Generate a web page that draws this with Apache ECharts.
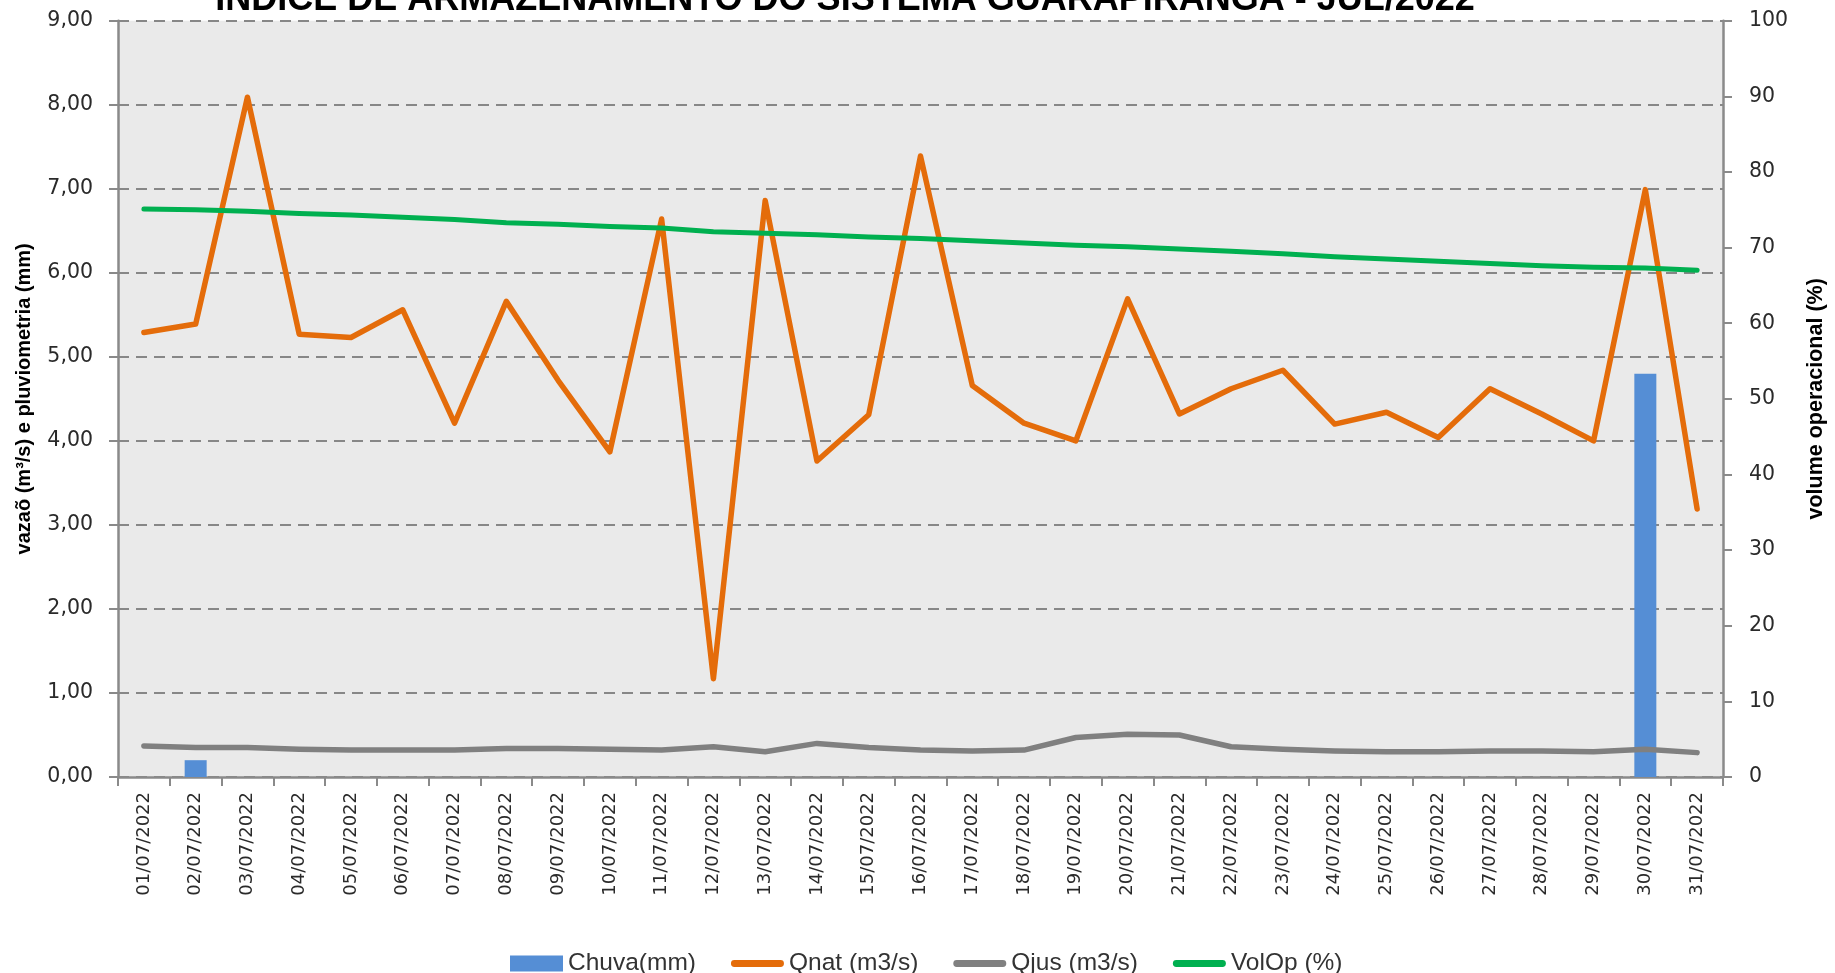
<!DOCTYPE html>
<html>
<head>
<meta charset="utf-8">
<script src="https://cdn.jsdelivr.net/npm/echarts@6/dist/echarts.min.js"></script>
<style>
html,body{margin:0;padding:0;background:#fff;}
#chart{width:1835px;height:973px;}
</style>
</head>
<body>
<div id="chart"></div>
<script>
const categories = ["01/07/2022","02/07/2022","03/07/2022","04/07/2022","05/07/2022","06/07/2022","07/07/2022","08/07/2022","09/07/2022","10/07/2022","11/07/2022","12/07/2022","13/07/2022","14/07/2022","15/07/2022","16/07/2022","17/07/2022","18/07/2022","19/07/2022","20/07/2022","21/07/2022","22/07/2022","23/07/2022","24/07/2022","25/07/2022","26/07/2022","27/07/2022","28/07/2022","29/07/2022","30/07/2022","31/07/2022"];
const chuva = [0,0.2,0,0,0,0,0,0,0,0,0,0,0,0,0,0,0,0,0,0,0,0,0,0,0,0,0,0,0,4.8,0];
const qnat = [5.29,5.39,8.09,5.27,5.23,5.56,4.21,5.66,4.72,3.87,6.64,1.17,6.86,3.76,4.31,7.39,4.66,4.21,4.00,5.69,4.32,4.62,4.84,4.20,4.34,4.04,4.62,4.32,4.00,6.99,3.19];
const qjus = [0.37,0.35,0.35,0.33,0.32,0.32,0.32,0.34,0.34,0.33,0.32,0.36,0.30,0.40,0.35,0.32,0.31,0.32,0.47,0.51,0.50,0.36,0.33,0.31,0.30,0.30,0.31,0.31,0.30,0.33,0.29];
const volop = [75.1,75.0,74.8,74.5,74.3,74.0,73.7,73.3,73.1,72.8,72.6,72.1,71.9,71.7,71.4,71.2,70.9,70.6,70.3,70.1,69.8,69.5,69.2,68.8,68.5,68.2,67.9,67.6,67.4,67.3,67.0];
const seriesNames = ["Chuva(mm)","Qnat (m3/s)","Qjus (m3/s)","VolOp (%)"];
const titleText = "ÍNDICE DE ARMAZENAMENTO DO SISTEMA GUARAPIRANGA - JUL/2022";
const leftAxisName = "vazaõ (m³/s) e pluviometria (mm)";
const rightAxisName = "volume operacional (%)";

const TXTF = "'Liberation Sans',Arial,sans-serif";
const LABELF = "'DejaVu Sans',Verdana,sans-serif";
const axisGray = '#8a8a8a';
const labelColor = '#2a2a2a';
const lineIcon = 'path://M0,0 M53,16 M3,4.5 L50,4.5 A3.5,3.5 0 0 1 50,11.5 L3,11.5 A3.5,3.5 0 0 1 3,4.5 Z';

const chart = echarts.init(document.getElementById('chart'), null, {renderer:'canvas'});
chart.setOption({
  animation:false,
  backgroundColor:'#ffffff',
  title:{
    text:titleText, left:840, textAlign:'center', top:-23,
    textStyle:{fontFamily:TXTF, fontWeight:'bold', fontSize:36, color:'#000'}
  },
  legend:{
    left:505, top:946, itemGap:35, itemWidth:53, itemHeight:16,
    textStyle:{fontFamily:TXTF, fontSize:24.5, color:'#333333'},
    data:[
      {name:seriesNames[0], icon:'rect'},
      {name:seriesNames[1], icon:lineIcon},
      {name:seriesNames[2], icon:lineIcon},
      {name:seriesNames[3], icon:lineIcon}
    ]
  },
  grid:{left:118, right:105, top:20.7, bottom:196, show:true, backgroundColor:'#EAEAEA', borderWidth:0, containLabel:false},
  xAxis:{
    type:'category', data:categories, boundaryGap:true,
    axisLine:{show:true, lineStyle:{color:axisGray, width:2.5}},
    axisTick:{show:true, alignWithLabel:false, length:9, lineStyle:{color:axisGray, width:2}},
    axisLabel:{rotate:90, margin:15, fontFamily:LABELF, fontSize:18, color:labelColor, interval:0},
    splitLine:{show:false}
  },
  yAxis:[
    {
      type:'value', min:0, max:9, interval:1, position:'left',
      name:leftAxisName, nameLocation:'middle', nameRotate:90, nameGap:84,
      nameTextStyle:{fontFamily:TXTF, fontWeight:'bold', fontSize:20, color:'#000'},
      axisLine:{show:true, lineStyle:{color:axisGray, width:2.5}},
      axisTick:{show:true, length:9, lineStyle:{color:axisGray, width:2}},
      axisLabel:{margin:25, fontFamily:LABELF, fontSize:20.5, color:labelColor,
        formatter:v=>v.toFixed(2).replace('.',',')},
      splitLine:{show:true, lineStyle:{color:'#878787', width:2, type:[11,7]}}
    },
    {
      type:'value', min:0, max:100, interval:10, position:'right',
      name:rightAxisName, nameLocation:'middle', nameRotate:90, nameGap:82,
      nameTextStyle:{fontFamily:TXTF, fontWeight:'bold', fontSize:21.5, color:'#000'},
      axisLine:{show:true, lineStyle:{color:axisGray, width:2.5}},
      axisTick:{show:true, length:9, lineStyle:{color:axisGray, width:2}},
      axisLabel:{margin:26, fontFamily:LABELF, fontSize:20.5, color:labelColor},
      splitLine:{show:false}
    }
  ],
  series:[
    {name:seriesNames[0], type:'bar', data:chuva, barWidth:22, itemStyle:{color:'#558ED5'}, z:1},
    {name:seriesNames[1], type:'line', data:qnat, symbol:'none', lineStyle:{color:'#E46C0A', width:5.5, cap:'round', join:'round'}, itemStyle:{color:'#E46C0A'}, z:3},
    {name:seriesNames[2], type:'line', data:qjus, symbol:'none', lineStyle:{color:'#808080', width:5.5, cap:'round', join:'round'}, itemStyle:{color:'#808080'}, z:3},
    {name:seriesNames[3], type:'line', yAxisIndex:1, data:volop, symbol:'none', lineStyle:{color:'#00B050', width:5, cap:'round', join:'round'}, itemStyle:{color:'#00B050'}, z:3}
  ]
});
</script>
</body>
</html>
